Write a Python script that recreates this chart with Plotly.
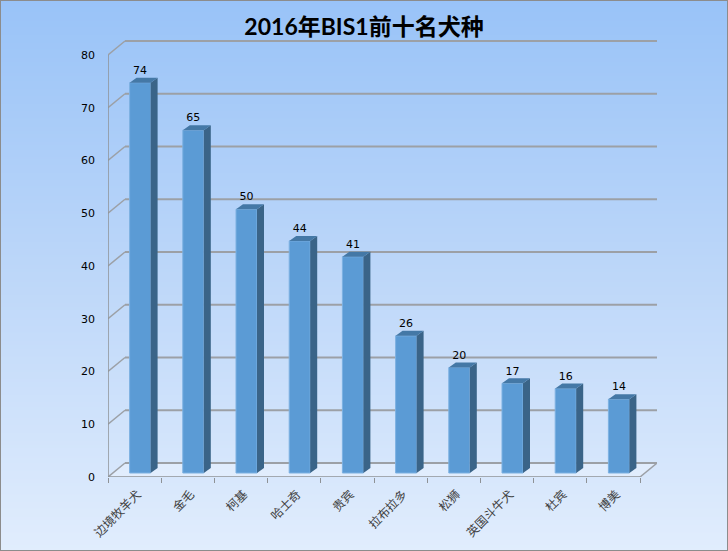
import plotly.graph_objects as go

breeds = ['边境牧羊犬', '金毛', '柯基', '哈士奇', '贵宾', '拉布拉多', '松狮', '英国斗牛犬', '杜宾', '博美']
counts = [74, 65, 50, 44, 41, 26, 20, 17, 16, 14]
grid_values = [0, 10, 20, 30, 40, 50, 60, 70, 80]

W, H = 728, 551
# pixel geometry of the fake 3D box
LEFT, RIGHT, TOP, BOTTOM = 108, 657, 39, 477
CAT_PX = 53.2
UNIT_PX = 5.275
WALL_DX = 17 / CAT_PX     # back wall offset, in categories
WALL_DY = 14 / UNIT_PX    # back wall offset, in value units
BAR_DX = 7 / CAT_PX       # bar depth
BAR_DY = 5 / UNIT_PX
BAR_SHIFT = 5.5 / CAT_PX  # bars stand a bit behind the front edge
BAR_BASE = 4 / UNIT_PX
BAR_W = 21 / CAT_PX

x_lo = -0.5
x_hi = len(breeds) - 0.5
x = list(range(len(breeds)))

fig = go.Figure()

# background gradient, on its own full-page axes
fig.add_trace(go.Heatmap(
    z=[[0, 0], [1, 1]], x=[0, 1], y=[0, 1], xaxis='x', yaxis='y',
    zsmooth='best', showscale=False, hoverinfo='skip',
    colorscale=[[0, '#E1EDFD'], [0.5, '#BDD7F9'], [1, '#99C3F8']],
))

# front faces
fig.add_trace(go.Bar(
    x=[i + BAR_SHIFT for i in x], y=counts, base=BAR_BASE, width=BAR_W,
    xaxis='x2', yaxis='y2',
    marker=dict(color='#5B9BD5', line=dict(color='#7DB1E2', width=1)),
    hoverinfo='skip',
))

# side and top faces
side_x, side_y, top_x, top_y = [], [], [], []
for i, v in zip(x, counts):
    l = i + BAR_SHIFT - BAR_W / 2
    r = i + BAR_SHIFT + BAR_W / 2
    t = v + BAR_BASE
    side_x += [r, r + BAR_DX, r + BAR_DX, r, r, None]
    side_y += [BAR_BASE, BAR_BASE + BAR_DY, t + BAR_DY, t, BAR_BASE, None]
    top_x += [l, l + BAR_DX, r + BAR_DX, r, l, None]
    top_y += [t, t + BAR_DY, t + BAR_DY, t, t, None]
fig.add_trace(go.Scatter(x=side_x, y=side_y, mode='lines', fill='toself', fillcolor='#3A6488',
                         line=dict(width=0), xaxis='x2', yaxis='y2', hoverinfo='skip'))
fig.add_trace(go.Scatter(x=top_x, y=top_y, mode='lines', fill='toself', fillcolor='#4478A6',
                         line=dict(width=0), xaxis='x2', yaxis='y2', hoverinfo='skip'))

# left wall edge and floor front edge
fig.add_trace(go.Scatter(
    x=[x_lo, x_lo, x_hi], y=[grid_values[-1], 0, 0], mode='lines',
    line=dict(color='#8E9296', width=1.5), cliponaxis=False,
    xaxis='x2', yaxis='y2', hoverinfo='skip',
))

# value labels
fig.add_trace(go.Scatter(
    x=[i + BAR_SHIFT for i in x], y=[v + BAR_BASE + BAR_DY + 0.2 for v in counts],
    mode='text', text=[str(v) for v in counts], textposition='top center',
    textfont=dict(family='DejaVu Sans', size=11, color='#000000'),
    cliponaxis=False, xaxis='x2', yaxis='y2', hoverinfo='skip',
))

# back wall grid, floor
shapes = [dict(
    type='path', xref='x2', yref='y2', layer='below', line=dict(width=0), fillcolor='rgba(255,255,255,0.25)',
    path=f'M {x_lo} 0 L {x_hi} 0 L {x_hi + WALL_DX} {WALL_DY} L {x_lo + WALL_DX} {WALL_DY} Z',
)]
for g in grid_values:
    shapes.append(dict(type='line', xref='x2', yref='y2', layer='below',
                       x0=x_lo + WALL_DX, x1=x_hi + WALL_DX, y0=g + WALL_DY, y1=g + WALL_DY,
                       line=dict(color='#9CA0A6', width=2)))
    shapes.append(dict(type='line', xref='x2', yref='y2', layer='below',
                       x0=x_lo, x1=x_lo + WALL_DX, y0=g, y1=g + WALL_DY,
                       line=dict(color='#9CA0A6', width=1.5)))
shapes.append(dict(type='line', xref='x2', yref='y2', layer='below',
                   x0=x_hi, x1=x_hi + WALL_DX, y0=0, y1=WALL_DY,
                   line=dict(color='#9CA0A6', width=1.5)))
# chart border
shapes.append(dict(type='rect', xref='paper', yref='paper', x0=0, x1=1, y0=0, y1=1,
                   line=dict(color='#8C8C8C', width=2), fillcolor='rgba(0,0,0,0)'))

fig.update_layout(
    width=W, height=H,
    margin=dict(l=0, r=0, t=0, b=0),
    paper_bgcolor='#BDD7F9',
    plot_bgcolor='rgba(0,0,0,0)',
    showlegend=False,
    shapes=shapes,
    title=dict(text='<b>2016年BIS1前十名犬种</b>', x=0.5, xanchor='center', y=0.951, yanchor='middle',
               automargin=False,
               font=dict(family='Lato, Noto Sans CJK SC', size=23, color='#000000')),
    xaxis=dict(domain=[0, 1], range=[0, 1], visible=False, fixedrange=True),
    yaxis=dict(domain=[0, 1], range=[0, 1], visible=False, fixedrange=True),
    xaxis2=dict(
        domain=[LEFT / W, RIGHT / W], anchor='y2', automargin=False,
        range=[x_lo, x_hi + WALL_DX],
        tickmode='array', tickvals=x, ticktext=breeds, tickangle=-45, ticks='',
        ticklabelstandoff=7, ticklabelshift=3,
        tickfont=dict(family='Noto Sans CJK SC', size=12, color='#404040'),
        showgrid=False, zeroline=False, showline=False,
        minor=dict(tickmode='array', tickvals=[i - 0.5 for i in range(len(breeds) + 1)],
                   ticks='outside', ticklen=5, tickcolor='#8E9296', tickwidth=1, showgrid=False),
    ),
    yaxis2=dict(
        domain=[1 - BOTTOM / H, 1 - TOP / H], anchor='x2', automargin=False,
        # 2px of headroom so the top grid line is not clipped
        range=[0, grid_values[-1] + WALL_DY + 2 / UNIT_PX],
        tickmode='array', tickvals=grid_values, ticks='',
        ticklabelstandoff=12,
        tickfont=dict(family='DejaVu Sans', size=11, color='#000000'),
        showgrid=False, zeroline=False, showline=False,
    ),
)

# the page's default body margin would push the figure 8px off
fig.write_html("out.html", post_script="document.body.style.margin='0';",
               config={'displayModeBar': False})
